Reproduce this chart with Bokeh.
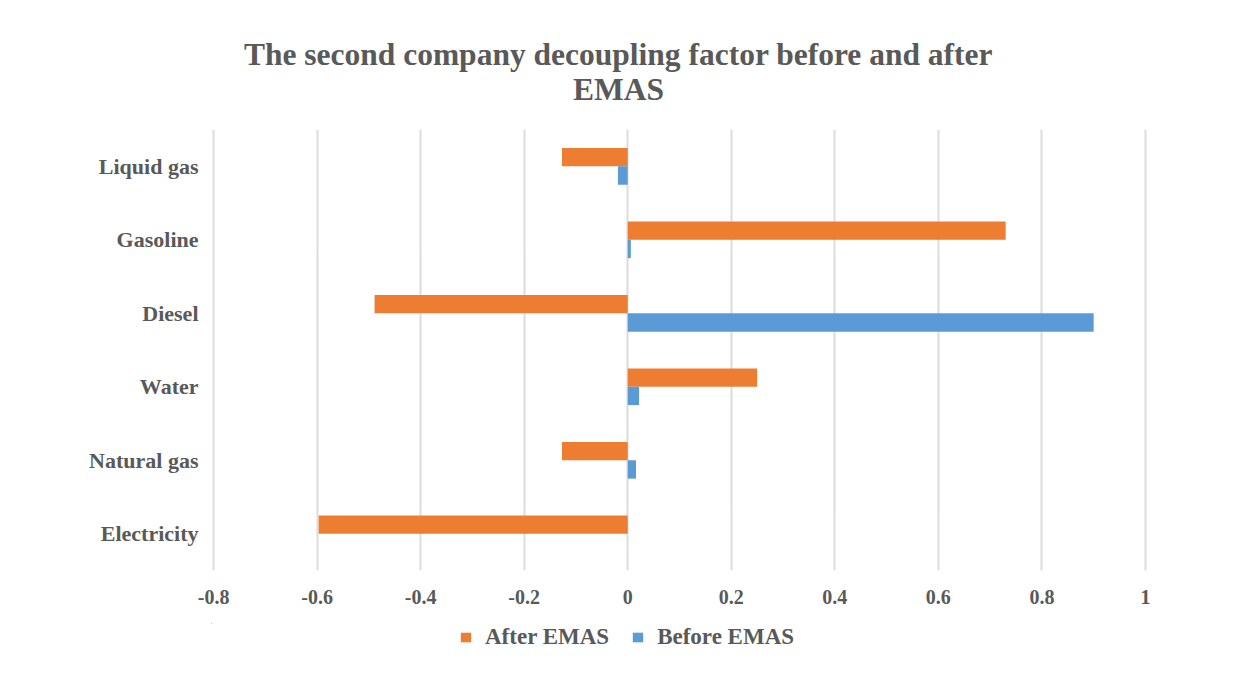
from bokeh.plotting import figure
from bokeh.layouts import column
from bokeh.models import FactorRange, Range1d, FixedTicker, Label, Legend, LegendItem, ColumnDataSource
from bokeh.transform import dodge
from bokeh.embed import file_html
from bokeh.resources import INLINE

categories = ["Electricity", "Natural gas", "Water", "Diesel", "Gasoline", "Liquid gas"]
after_emas = [-0.597, -0.127, 0.25, -0.489, 0.73, -0.127]
before_emas = [0.0, 0.016, 0.022, 0.90, 0.006, -0.019]
tick_values = [-0.8, -0.6, -0.4, -0.2, 0, 0.2, 0.4, 0.6, 0.8, 1]
tick_labels = ["-0.8", "-0.6", "-0.4", "-0.2", "0", "0.2", "0.4", "0.6", "0.8", "1"]
series_names = ["After EMAS", "Before EMAS"]
title_lines = ["The second company decoupling factor before and after", "EMAS"]

FONT = "Liberation Serif"
TXT = "#595959"
ORANGE = "#ED7D31"
BLUE = "#5B9BD5"
W = 1223

# ---- title strip ----
tf = figure(width=W, height=110, x_range=Range1d(0, 1), y_range=Range1d(0, 1),
            x_axis_type=None, y_axis_type=None, output_backend="svg",
            toolbar_location=None, min_border=0)
tf.outline_line_color = None
for line, yy in zip(title_lines, [56, 21]):
    tf.add_layout(Label(x=407, y=yy, x_units="screen", y_units="screen", text=line,
                        text_align="center", text_baseline="middle", text_font=FONT,
                        text_font_size="31.5px", text_font_style="bold", text_color=TXT))

# ---- main chart ----
src = ColumnDataSource(dict(cat=categories, after=after_emas, before=before_emas))

p = figure(width=W, height=513, y_range=FactorRange(factors=categories),
           x_range=Range1d(-0.804, 1.004), output_backend="svg", toolbar_location=None,
           min_border_left=211, min_border_right=76, min_border_top=19, min_border_bottom=53)
p.title = None

p.hbar(y=dodge("cat", 0.125, range=p.y_range), right="after", left=0, height=0.25,
       source=src, color=ORANGE, line_color=None)
p.hbar(y=dodge("cat", -0.125, range=p.y_range), right="before", left=0, height=0.25,
       source=src, color=BLUE, line_color=None)

p.outline_line_color = None
p.ygrid.grid_line_color = None
p.xgrid.grid_line_color = "#dcdcdc"
p.xgrid.grid_line_width = 2
p.xaxis.ticker = FixedTicker(ticks=tick_values)
p.xgrid.ticker = FixedTicker(ticks=tick_values)
p.xaxis.major_label_overrides = {v: l for v, l in zip(tick_values, tick_labels)}

for ax in (p.xaxis[0], p.yaxis[0]):
    ax.axis_line_color = None
    ax.major_tick_line_color = None
    ax.minor_tick_line_color = None
    ax.major_tick_out = 0
    ax.major_tick_in = 0
    ax.minor_tick_out = 0
    ax.major_label_text_font = FONT
    ax.major_label_text_font_style = "bold"
    ax.major_label_text_color = TXT
p.xaxis.major_label_text_font_size = "20px"
p.xaxis.major_label_standoff = 19
p.yaxis.major_label_text_font_size = "22px"
p.yaxis.major_label_standoff = 13

# ---- legend strip (legend swatches use the same series, kept outside the visible ranges) ----
lf = figure(width=W, height=54, x_range=Range1d(5, 6), y_range=FactorRange(factors=categories),
            x_axis_type=None, y_axis_type=None, output_backend="svg",
            toolbar_location=None, min_border=0)
lf.outline_line_color = None
lf.xgrid.visible = False
lf.ygrid.visible = False
la = lf.hbar(y=dodge("cat", 20, range=lf.y_range), right="after", left=0, height=0.25,
             source=src, color=ORANGE, line_color=None)
lb = lf.hbar(y=dodge("cat", 20, range=lf.y_range), right="before", left=0, height=0.25,
             source=src, color=BLUE, line_color=None)
legend = Legend(items=[LegendItem(label=series_names[0], renderers=[la]),
                       LegendItem(label=series_names[1], renderers=[lb])],
                location=(248, 27), orientation="horizontal", padding=0, margin=0,
                spacing=22, glyph_width=13, glyph_height=12, label_standoff=13,
                label_height=22, border_line_color=None, background_fill_alpha=0,
                label_text_font=FONT, label_text_font_style="bold",
                label_text_font_size="23px", label_text_color=TXT)
lf.add_layout(legend)

layout = column(tf, p, lf, spacing=0)
open("out.html", "w").write(file_html(layout, INLINE))
